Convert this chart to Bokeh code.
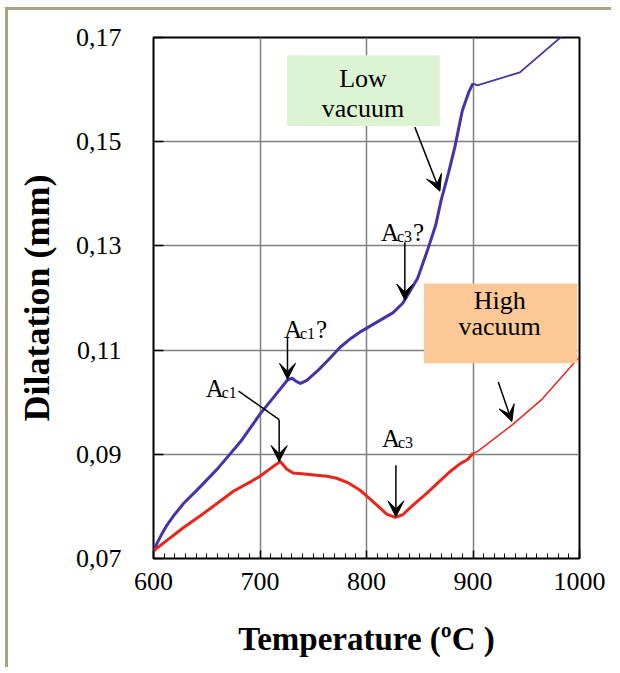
from bokeh.plotting import figure
from bokeh.models import FixedTicker, Label, BoxAnnotation, Arrow, VeeHead
from bokeh.embed import file_html
from bokeh.resources import INLINE

# ---- data ----
# Low vacuum (blue), measured part up to 900 °C
low_x = [600, 603, 607, 612, 620, 628, 644, 660, 670, 682, 700, 715, 726, 730, 734,
         738, 744, 755, 765, 775, 785, 795, 805, 815, 825, 834, 840, 848, 857,
         865, 870, 877, 883, 890, 896, 900]
low_y = [0.0712, 0.0728, 0.0744, 0.0762, 0.0785, 0.0805, 0.0838, 0.0872, 0.0896, 0.0925,
         0.0977, 0.1015, 0.1043, 0.1046, 0.1040, 0.1036, 0.1042, 0.1062, 0.1083,
         0.1105, 0.1122, 0.1136, 0.1148, 0.1160, 0.1172, 0.1190, 0.1210, 0.1238,
         0.1290, 0.1340, 0.1387, 0.1440, 0.1490, 0.1560, 0.1595, 0.1612]
low_tail_x = [900, 904, 944, 985]
low_tail_y = [0.1612, 0.1608, 0.1633, 0.1705]

# High vacuum (red)
high_x = [600, 616, 628, 644, 660, 675, 691, 700, 710, 719, 725, 731, 742, 753,
          763, 772, 783, 794, 803, 810, 819, 827, 834, 845, 857, 868, 878, 888,
          895, 900]
high_y = [0.0715, 0.0740, 0.0759, 0.0782, 0.0806, 0.0829, 0.0847, 0.0858, 0.0873,
          0.0886, 0.0872, 0.0864, 0.0862, 0.0860, 0.0858, 0.0854, 0.0845, 0.0831,
          0.0815, 0.0802, 0.0785, 0.0779, 0.0784, 0.0805, 0.0826, 0.0847, 0.0866,
          0.0882, 0.0890, 0.0902]
high_tail_x = [900, 904, 936, 965, 993, 1000]
high_tail_y = [0.0902, 0.0905, 0.0955, 0.1006, 0.1071, 0.1087]

x_ticks = [600, 700, 800, 900, 1000]
x_minor_ticks = [600, 610, 620, 630, 640, 650, 660, 670, 680, 690,
                 700, 710, 720, 730, 740, 750, 760, 770, 780, 790,
                 800, 810, 820, 830, 840, 850, 860, 870, 880, 890,
                 900, 910, 920, 930, 940, 950, 960, 970, 980, 990, 1000]
y_ticks = [0.07, 0.09, 0.11, 0.13, 0.15, 0.17]
y_tick_labels = ["0,07", "0,09", "0,11", "0,13", "0,15", "0,17"]

BLUE = "#4534a8"
RED = "#e8261c"
SERIF = "Liberation Serif"

p = figure(width=606, height=660, x_range=(600, 1000), y_range=(0.07, 0.17),
           output_backend="svg", toolbar_location=None,
           min_border_left=145, min_border_right=35,
           min_border_top=27, min_border_bottom=112)
p.styles = {"border-top": "3px solid #a7a385", "border-left": "3px solid #a7a385",
            "margin-left": "5px", "margin-top": "7px"}

p.outline_line_color = "black"
p.outline_line_width = 2

# axes
p.xaxis.ticker = FixedTicker(ticks=x_ticks, minor_ticks=x_minor_ticks)
p.yaxis.ticker = FixedTicker(ticks=y_ticks)
p.yaxis.major_label_overrides = dict(zip(y_ticks, y_tick_labels))
for ax in (p.xaxis, p.yaxis):
    ax.axis_line_color = None
    ax.major_tick_out = 0
    ax.minor_tick_out = 0
    ax.major_tick_line_color = "black"
    ax.major_tick_line_width = 1.5
    ax.minor_tick_line_color = "black"
    ax.major_label_text_font = SERIF
    ax.major_label_text_font_size = "26px"
    ax.major_label_text_color = "black"
    ax.axis_label_text_font = SERIF
    ax.axis_label_text_font_style = "bold"
    ax.axis_label_text_color = "black"
p.xaxis.major_tick_in = 8
p.xaxis.minor_tick_in = 5
p.yaxis.major_tick_in = 10
p.yaxis.minor_tick_in = 0
p.xaxis.major_label_standoff = 14
p.yaxis.major_label_standoff = 32
p.xaxis.axis_label = "Temperature (ºC )"
p.xaxis.axis_label_text_font_size = "33px"
p.xaxis.axis_label_standoff = 28
p.yaxis.axis_label = "Dilatation (mm)"
p.yaxis.axis_label_text_font_size = "36px"
p.yaxis.axis_label_standoff = 16

# grid
p.xgrid.ticker = FixedTicker(ticks=x_ticks)
p.ygrid.ticker = FixedTicker(ticks=y_ticks)
for g in (p.xgrid, p.ygrid):
    g.grid_line_color = "#808080"
    g.grid_line_width = 1.5

# curves
p.line(low_x, low_y, line_color=BLUE, line_width=3, line_join="round")
p.line(low_tail_x, low_tail_y, line_color=BLUE, line_width=1.8, line_join="round")
p.line(high_x, high_y, line_color=RED, line_width=3, line_join="round")
p.line(high_tail_x, high_tail_y, line_color=RED, line_width=1.5, line_join="round")

# boxes
p.add_layout(BoxAnnotation(left=725.5, right=868.9, top=0.1666, bottom=0.1530,
                           fill_color="#ddf4d4", fill_alpha=1, line_color=None))
p.add_layout(BoxAnnotation(left=853.9, right=998, top=0.1228, bottom=0.1075,
                           fill_color="#fcc996", fill_alpha=1, line_color=None))


def txt(x, y, s, size="26px", align="center", xo=0, yo=0, baseline="middle"):
    p.add_layout(Label(x=x, y=y, text=s, text_font=SERIF, text_font_size=size,
                       text_align=align, text_baseline=baseline, text_color="black",
                       x_offset=xo, y_offset=yo))


txt(796.7, 0.1622, "Low")
txt(796.7, 0.15645, "vacuum")
txt(925, 0.1196, "High")
txt(925, 0.11444, "vacuum")


def sub_label(x, y, sub, tail=""):
    txt(x, y, "A", size="25px", align="left", baseline="alphabetic")
    txt(x, y, sub, size="16px", align="left", baseline="alphabetic", xo=16, yo=-4)
    if tail:
        txt(x, y, tail, size="25px", align="left", baseline="alphabetic", xo=32)


sub_label(722.5, 0.11391, "c1", "?")      # Ac1? (low vacuum)
sub_label(813.5, 0.13254, "c3", "?")      # Ac3? (low vacuum)
sub_label(649.0, 0.10254, "c1")           # Ac1 (high vacuum)
sub_label(814.5, 0.09304, "c3")           # Ac3 (high vacuum)


def arrow(x0, y0, x1, y1, head=True):
    end = VeeHead(size=16, fill_color="black", line_color="black", line_width=1) if head else None
    p.add_layout(Arrow(end=end, x_start=x0, y_start=y0, x_end=x1, y_end=y1,
                       line_color="black", line_width=1.5))


arrow(845.4, 0.1528, 868.9, 0.1405)       # Low vacuum
arrow(836.0, 0.1307, 836.0, 0.1196)       # Ac3?
arrow(725.8, 0.1123, 725.8, 0.1044)       # Ac1?
arrow(679.9, 0.10214, 718.0, 0.09665, head=False)
arrow(718.0, 0.09665, 718.0, 0.0886)      # Ac1
arrow(827.6, 0.0879, 827.6, 0.0780)       # Ac3
arrow(923.7, 0.1039, 936.5, 0.0963)       # High vacuum

open("out.html", "w").write(file_html(p, INLINE))
